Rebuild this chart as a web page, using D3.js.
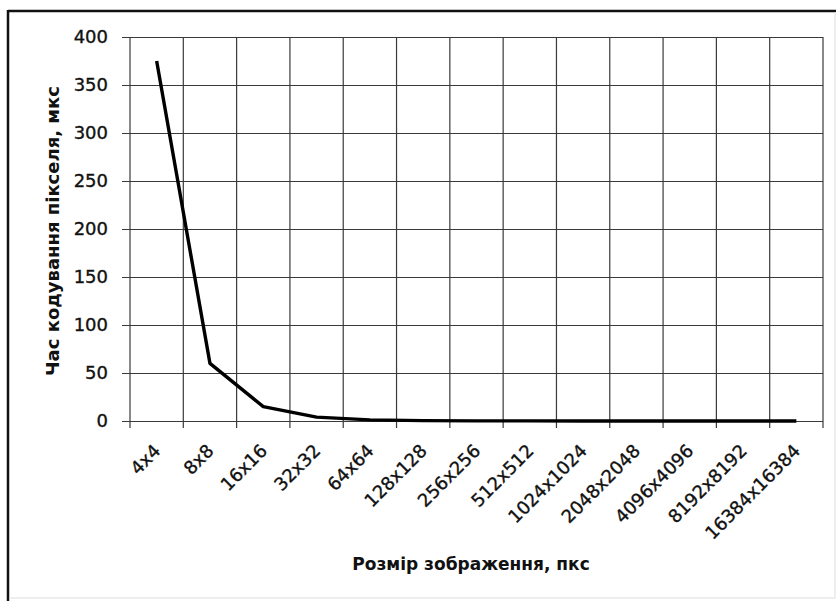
<!DOCTYPE html>
<html><head><meta charset="utf-8">
<script src="https://cdn.jsdelivr.net/npm/d3@7/dist/d3.min.js"></script>
<style>body{margin:0;background:#fff}svg{display:block}</style>
</head><body>
<svg id="c" width="837" height="601"></svg>
<script>
const categories = ["4x4","8x8","16x16","32x32","64x64","128x128","256x256","512x512","1024x1024","2048x2048","4096x4096","8192x8192","16384x16384"];
const values = [375, 60, 15, 4, 1.2, 0.4, 0.15, 0.08, 0.04, 0.02, 0.01, 0.005, 0.003];
const yTicks = [0, 50, 100, 150, 200, 250, 300, 350, 400];
const xTitle = "Розмір зображення, пкс";
const yTitle = "Час кодування пікселя, мкс";

const svg = d3.select("#c");
const L = 130, R = 823, T = 37, B = 421;
const x = d3.scaleBand().domain(categories).range([L, R]).paddingInner(0).paddingOuter(0);
const y = d3.scaleLinear().domain([0, 400]).range([B, T]);
const font = "'DejaVu Sans', sans-serif";
const grid = "#3a3a3a";

// outer frame
svg.append("line").attr("x1", 8).attr("x2", 836).attr("y1", 11).attr("y2", 11).attr("stroke", "#111").attr("stroke-width", 2.5);
svg.append("line").attr("x1", 8).attr("x2", 8).attr("y1", 10).attr("y2", 601).attr("stroke", "#111").attr("stroke-width", 2.5);
svg.append("line").attr("x1", 835).attr("x2", 835).attr("y1", 12).attr("y2", 598).attr("stroke", "#ddd").attr("stroke-width", 1);
svg.append("line").attr("x1", 9).attr("x2", 835).attr("y1", 598).attr("y2", 598).attr("stroke", "#ddd").attr("stroke-width", 1);

// horizontal gridlines + y ticks
const yAxis = d3.axisLeft(y).tickValues(yTicks).tickSize(-(R - L)).tickPadding(14).tickFormat(d3.format("d"));
const gy = svg.append("g").attr("transform", `translate(${L},0)`).call(yAxis);
gy.select(".domain").remove();
gy.selectAll(".tick line").attr("stroke", grid).attr("stroke-width", 1.2).attr("x1", -8);
gy.selectAll(".tick text").attr("font-family", font).attr("font-size", 18).attr("fill", "#111")
  .attr("stroke", "#111").attr("stroke-width", 0.35).attr("x", -22);

// vertical gridlines at category boundaries
const bounds = categories.map(c => x(c)).concat([x(categories[categories.length - 1]) + x.bandwidth()]);
svg.append("g").selectAll("line").data(bounds).join("line")
  .attr("x1", d => d).attr("x2", d => d).attr("y1", T).attr("y2", B + 7)
  .attr("stroke", grid).attr("stroke-width", 1.2);

// x labels
svg.append("g").selectAll("text").data(categories).join("text")
  .attr("transform", d => `translate(${x(d) + x.bandwidth() / 2 + 5},${B + 31}) rotate(-45)`)
  .attr("text-anchor", "end").attr("font-family", font).attr("font-size", 18).attr("fill", "#111")
  .attr("stroke", "#111").attr("stroke-width", 0.35)
  .text(d => d);

// line
const line = d3.line().x((d, i) => x(categories[i]) + x.bandwidth() / 2).y(d => y(d));
svg.append("path").datum(values).attr("d", line).attr("fill", "none")
  .attr("stroke", "#000").attr("stroke-width", 3.4).attr("stroke-linejoin", "round");

// titles
svg.append("text").attr("x", 471).attr("y", 570).attr("text-anchor", "middle")
  .attr("font-family", font).attr("font-weight", "bold").attr("font-size", 17).attr("fill", "#111").text(xTitle);
svg.append("text").attr("transform", "translate(59,231) rotate(-90)").attr("text-anchor", "middle")
  .attr("font-family", font).attr("font-weight", "bold").attr("font-size", 18).attr("fill", "#111").text(yTitle);
</script>
</body></html>
